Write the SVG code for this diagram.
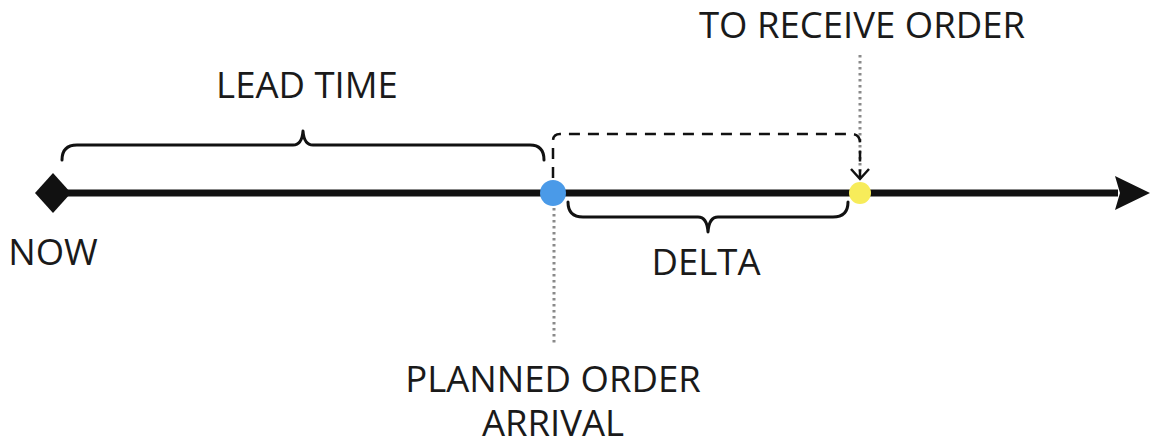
<svg xmlns="http://www.w3.org/2000/svg" width="1151" height="443" viewBox="0 0 1151 443">
<style>
.t{font-family:"Open Sans","Liberation Sans",sans-serif;font-size:36.5px;fill:#1a1a1a;text-anchor:middle}
.br{fill:none;stroke:#111;stroke-width:3;stroke-linecap:round;stroke-linejoin:round}
.dot{fill:none;stroke:#8a8a8a;stroke-width:3;stroke-dasharray:2.5 3.5}
</style>
<defs>
<marker id="open" markerWidth="24" markerHeight="20" refX="11" refY="10" orient="auto" markerUnits="userSpaceOnUse">
<path d="M1,1 L11,10 L1,19" fill="none" stroke="#111" stroke-width="2.5"/>
</marker>
</defs>
<g id="connectors">
<line x1="52" y1="193" x2="1118" y2="193" stroke="#111" stroke-width="7"/>
<path d="M1115,176 L1150,193 L1115,210 L1120,193 Z" fill="#111"/>
<line class="dot" x1="860" y1="55" x2="860" y2="178"/>
<line class="dot" x1="554" y1="208" x2="554" y2="344"/>
<path d="M553,178 L553,141 Q553,134 560,134 L851,134 Q860,134 860,143 L860,179" fill="none" stroke="#111" stroke-width="2.5" stroke-dasharray="11 8" marker-end="url(#open)"/>
</g>
<g id="now">
<path d="M53,173 L71,193 L53,213 L35,193 Z" fill="#111"/>
<text class="t" x="53" y="265">NOW</text>
</g>
<g id="lead-time">
<path class="br" d="M62,160 Q62,145 77,145 L293,145 Q302,145 303,131 Q304,145 313,145 L530,145 Q544,145 544,160"/>
<text class="t" x="307" y="98">LEAD TIME</text>
</g>
<g id="planned">
<circle cx="553" cy="193" r="13" fill="#4a9ae8"/>
<text class="t" x="553" y="392">PLANNED ORDER</text>
<text class="t" x="553" y="436">ARRIVAL</text>
</g>
<g id="receive">
<circle cx="860" cy="193" r="11" fill="#f7ec5a"/>
<text class="t" x="862" y="38">TO RECEIVE ORDER</text>
</g>
<g id="delta">
<path class="br" d="M568,202 Q568,217 583,217 L698,217 Q707,217 708,232 Q709,217 718,217 L833,217 Q848,217 848,202"/>
<text class="t" x="706" y="275">DELTA</text>
</g>
</svg>
